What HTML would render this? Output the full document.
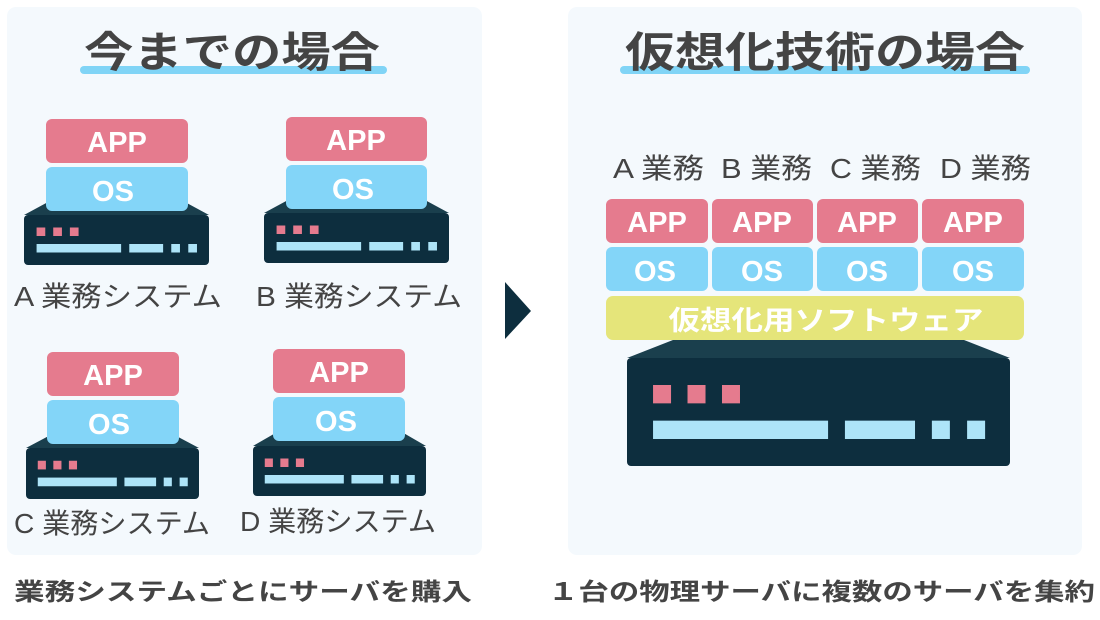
<!DOCTYPE html>
<html><head><meta charset="utf-8"><style>
html,body{margin:0;padding:0;background:#fff;}
svg{display:block;font-family:"Liberation Sans","Noto Sans CJK JP",sans-serif;}
</style></head><body>
<svg id="s" width="1100" height="620" viewBox="0 0 1100 620" xmlns="http://www.w3.org/2000/svg">
<rect x="7" y="7" width="475" height="548" rx="9" fill="#f4f9fd"/>
<rect x="568" y="7" width="514" height="548" rx="9" fill="#f4f9fd"/>
<rect x="80" y="66" width="307" height="8" rx="4" fill="#80d4f6"/>
<rect x="620" y="66" width="410" height="8" rx="4" fill="#80d4f6"/>
<text x="84" y="67" font-size="42" font-weight="bold" fill="#444" textLength="296" lengthAdjust="spacingAndGlyphs">今までの場合</text>
<text x="625" y="67" font-size="42" font-weight="bold" fill="#444" textLength="400" lengthAdjust="spacingAndGlyphs">仮想化技術の場合</text>
<polygon points="505,282 531,311 505,339" fill="#0d2e3e"/>
<g id="srv"></g>
<g font-size="29" font-weight="bold" fill="#fff" text-anchor="middle">
<rect x="46" y="119" width="142" height="44" rx="6" fill="#e57b8e"/><text x="117" y="152">APP</text>
<rect x="46" y="167" width="142" height="44" rx="6" fill="#83d5f8"/><text x="113" y="201">OS</text>
<rect x="286" y="117" width="141" height="44" rx="6" fill="#e57b8e"/><text x="356" y="150">APP</text>
<rect x="286" y="165" width="141" height="44" rx="6" fill="#83d5f8"/><text x="353" y="199">OS</text>
<rect x="47" y="352" width="132" height="44" rx="6" fill="#e57b8e"/><text x="113" y="385">APP</text>
<rect x="47" y="400" width="132" height="44" rx="6" fill="#83d5f8"/><text x="109" y="434">OS</text>
<rect x="273" y="349" width="132" height="44" rx="6" fill="#e57b8e"/><text x="339" y="382">APP</text>
<rect x="273" y="397" width="132" height="44" rx="6" fill="#83d5f8"/><text x="336" y="431">OS</text>
<rect x="606" y="199" width="102" height="44" rx="6" fill="#e57b8e"/><text x="657" y="232">APP</text>
<rect x="712" y="199" width="101" height="44" rx="6" fill="#e57b8e"/><text x="762" y="232">APP</text>
<rect x="817" y="199" width="101" height="44" rx="6" fill="#e57b8e"/><text x="867" y="232">APP</text>
<rect x="922" y="199" width="102" height="44" rx="6" fill="#e57b8e"/><text x="973" y="232">APP</text>
<rect x="606" y="247" width="102" height="44" rx="6" fill="#83d5f8"/><text x="655" y="281">OS</text>
<rect x="712" y="247" width="101" height="44" rx="6" fill="#83d5f8"/><text x="762" y="281">OS</text>
<rect x="817" y="247" width="101" height="44" rx="6" fill="#83d5f8"/><text x="867" y="281">OS</text>
<rect x="922" y="247" width="102" height="44" rx="6" fill="#83d5f8"/><text x="973" y="281">OS</text>
<rect x="606" y="296" width="418" height="44" rx="7" fill="#e5e57a"/>
<text x="826" y="330" font-size="27" textLength="315" lengthAdjust="spacingAndGlyphs">仮想化用ソフトウェア</text>
</g>
<g font-size="28" fill="#444" lengthAdjust="spacingAndGlyphs">
<text x="14" y="306" textLength="208" lengthAdjust="spacingAndGlyphs">A 業務システム</text>
<text x="256" y="306" textLength="206" lengthAdjust="spacingAndGlyphs">B 業務システム</text>
<text x="14" y="533" textLength="196" lengthAdjust="spacingAndGlyphs">C 業務システム</text>
<text x="240" y="531" textLength="196" lengthAdjust="spacingAndGlyphs">D 業務システム</text>
<text x="613" y="178" textLength="91" lengthAdjust="spacingAndGlyphs">A 業務</text>
<text x="721" y="178" textLength="91" lengthAdjust="spacingAndGlyphs">B 業務</text>
<text x="830" y="178" textLength="91" lengthAdjust="spacingAndGlyphs">C 業務</text>
<text x="940" y="178" textLength="91" lengthAdjust="spacingAndGlyphs">D 業務</text>
</g>
<g font-size="24" font-weight="bold" fill="#444">
<text x="14" y="600" textLength="458" lengthAdjust="spacingAndGlyphs">業務システムごとにサーバを購入</text>
<text x="548" y="600" textLength="547" lengthAdjust="spacingAndGlyphs">１台の物理サーバに複数のサーバを集約</text>
</g>
</svg>
<script>
var g=document.getElementById('srv'),ns='http://www.w3.org/2000/svg';
function el(n,a){var e=document.createElementNS(ns,n);for(var k in a)e.setAttribute(k,a[k]);g.appendChild(e);}
function srv(x,y,W,t,h){
 el('polygon',{points:(x+0.12*W)+','+y+' '+(x+0.88*W)+','+y+' '+(x+W)+','+(y+t)+' '+x+','+(y+t),fill:'#1a3f4d'});
 el('rect',{x:x,y:y+t,width:W,height:h,rx:4,fill:'#0d2e3e'});
 var by=y+t;
 [0.068,0.158,0.248].forEach(function(f){el('rect',{x:x+f*W,y:by+0.25*h,width:0.047*W,height:0.17*h,fill:'#e57b8e'});});
 [[0.068,0.525],[0.569,0.752],[0.796,0.843],[0.888,0.935]].forEach(function(b){el('rect',{x:x+b[0]*W,y:by+0.58*h,width:(b[1]-b[0])*W,height:0.17*h,fill:'#ade4f8'});});
}
srv(24,203,185,12,50);
srv(264,201,185,12,50);
srv(26,437,173,11,51);
srv(253,434,173,12,50);
srv(627,340,383,18,108);
</script>
</body></html>
